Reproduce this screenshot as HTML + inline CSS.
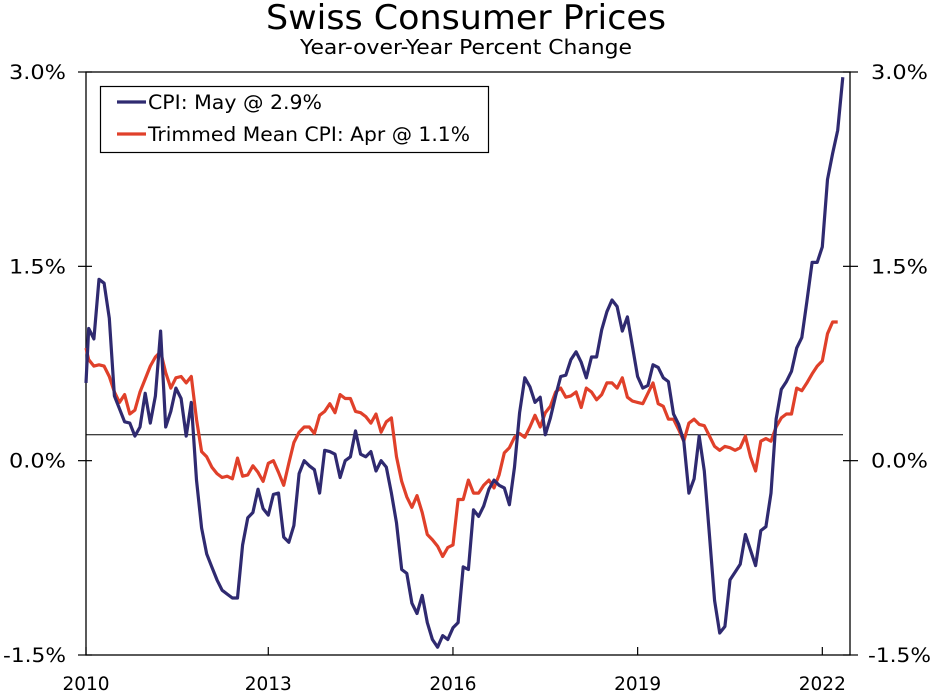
<!DOCTYPE html>
<html><head><meta charset="utf-8"><style>
html,body{margin:0;padding:0;background:#fff;}
svg{display:block;font-family:"DejaVu Sans","Liberation Sans",sans-serif;}
</style></head><body>
<svg id="chart" width="937" height="691" viewBox="0 0 937 691">
<text x="466" y="29" text-anchor="middle" font-size="34" textLength="400" lengthAdjust="spacingAndGlyphs" fill="#000">Swiss Consumer Prices</text>
<text x="466" y="54" text-anchor="middle" font-size="20" textLength="332" lengthAdjust="spacingAndGlyphs" fill="#000">Year-over-Year Percent Change</text>
<g id="axes"></g>
<g id="series"></g>
<g>
<rect x="100.5" y="86.5" width="388" height="66" fill="#fff" stroke="#000" stroke-width="1.2"/>
<line x1="117" y1="102" x2="146" y2="102" stroke="#2f2a70" stroke-width="3.2"/>
<text x="148" y="109" font-size="19.5" textLength="174" lengthAdjust="spacingAndGlyphs">CPI: May @ 2.9%</text>
<line x1="117" y1="134" x2="146" y2="134" stroke="#e0402a" stroke-width="3.2"/>
<text x="148" y="141" font-size="19.5" textLength="322" lengthAdjust="spacingAndGlyphs">Trimmed Mean CPI: Apr @ 1.1%</text>
</g>
</svg>
<script>
const cpiValues=[0.6,1.02,0.94,1.40,1.37,1.1,0.5,0.4,0.3,0.29,0.19,0.26,0.52,0.29,0.5,1.0,0.26,0.38,0.56,0.48,0.19,0.45,-0.15,-0.52,-0.72,-0.82,-0.92,-1.0,-1.03,-1.06,-1.06,-0.65,-0.44,-0.4,-0.22,-0.37,-0.42,-0.26,-0.25,-0.59,-0.63,-0.5,-0.1,0.0,-0.04,-0.07,-0.25,0.08,0.07,0.05,-0.13,0.0,0.03,0.23,0.05,0.03,0.07,-0.08,0.0,-0.05,-0.25,-0.48,-0.84,-0.87,-1.1,-1.18,-1.04,-1.25,-1.38,-1.44,-1.35,-1.38,-1.29,-1.25,-0.82,-0.84,-0.38,-0.43,-0.35,-0.22,-0.15,-0.19,-0.21,-0.34,-0.05,0.37,0.64,0.57,0.45,0.49,0.2,0.33,0.5,0.65,0.66,0.78,0.84,0.76,0.64,0.8,0.8,1.01,1.15,1.24,1.19,1.0,1.11,0.88,0.65,0.56,0.58,0.74,0.72,0.64,0.61,0.36,0.28,0.15,-0.25,-0.14,0.19,-0.08,-0.58,-1.08,-1.33,-1.28,-0.92,-0.86,-0.8,-0.57,-0.69,-0.81,-0.54,-0.51,-0.25,0.32,0.55,0.61,0.69,0.87,0.95,1.23,1.53,1.53,1.65,2.17,2.37,2.55,2.96];
const trimmedValues=[0.87,0.78,0.73,0.74,0.73,0.65,0.53,0.45,0.51,0.36,0.39,0.53,0.63,0.73,0.8,0.84,0.68,0.56,0.64,0.65,0.6,0.65,0.32,0.07,0.03,-0.05,-0.1,-0.13,-0.12,-0.14,0.02,-0.12,-0.11,-0.04,-0.09,-0.16,-0.02,0,-0.09,-0.19,-0.02,0.14,0.22,0.26,0.26,0.21,0.35,0.38,0.44,0.37,0.51,0.48,0.48,0.38,0.37,0.34,0.29,0.36,0.22,0.3,0.33,0.03,-0.16,-0.28,-0.36,-0.27,-0.4,-0.57,-0.61,-0.66,-0.74,-0.67,-0.65,-0.3,-0.3,-0.15,-0.25,-0.25,-0.19,-0.15,-0.21,-0.11,0.06,0.1,0.18,0.21,0.18,0.26,0.35,0.26,0.37,0.42,0.53,0.56,0.49,0.5,0.53,0.41,0.56,0.53,0.47,0.51,0.6,0.6,0.56,0.64,0.49,0.46,0.45,0.44,0.52,0.6,0.44,0.42,0.32,0.32,0.24,0.15,0.29,0.32,0.28,0.27,0.19,0.11,0.08,0.11,0.1,0.08,0.1,0.19,0.03,-0.08,0.15,0.17,0.15,0.26,0.33,0.36,0.36,0.56,0.54,0.6,0.67,0.73,0.77,0.98,1.07,1.07];
const yTicks=[3.0,1.5,0.0,-1.5];
const yTickLabels=["3.0%","1.5%","0.0%","-1.5%"];
const xTickYears=[2010,2013,2016,2019,2022];
const referenceLevel=[0.2];

const NS="http://www.w3.org/2000/svg";
const L=86,R=850,T=72,B=655;
function xScale(i){return 83.6+i*5.13;}
function yScale(v){return T+(3.0-v)*(B-T)/4.5;}
function xYear(y){return xScale((y-2010)*12);}
function mk(tag,attrs,parent){const e=document.createElementNS(NS,tag);for(const k in attrs)e.setAttribute(k,attrs[k]);parent.appendChild(e);return e;}
const axes=document.getElementById('axes'),series=document.getElementById('series');

let e=mk('rect',{x:L,y:T,width:R-L,height:B-T,fill:'none',stroke:'#000','stroke-width':1.3},axes);


yTicks.forEach((v,k)=>{
  const y=yScale(v);
  const lab=yTickLabels[k];
  const w=lab.length===5?63:57;
  let t=mk('line',{x1:L-8,y1:y,x2:L+6,y2:y,stroke:'#000','stroke-width':1.2},axes);
  
  
  t=mk('line',{x1:R-7,y1:y,x2:R+8,y2:y,stroke:'#000','stroke-width':1.2},axes);
  
  
  let tx=mk('text',{x:66-w,y:y+7,'font-size':19.5,textLength:w,lengthAdjust:'spacingAndGlyphs'},axes);tx.textContent=lab;
  
  
  tx=mk('text',{x:lab.length===5?868:871,y:y+7,'font-size':19.5,textLength:w,lengthAdjust:'spacingAndGlyphs'},axes);tx.textContent=lab;
  
  
});
xTickYears.forEach(yr=>{
  const x=Math.max(L,xYear(yr));
  let t=mk('line',{x1:x,y1:B-8,x2:x,y2:B,stroke:'#000','stroke-width':1.2},axes);
  
  
  let tx=mk('text',{x:x,y:690,'text-anchor':'middle','font-size':18.5},axes);tx.textContent=String(yr);
  
  
});
const ry=yScale(referenceLevel[0]);
e=mk('line',{x1:L,y1:ry,x2:843,y2:ry,stroke:'#000','stroke-width':1},axes);



function path(vals,color,name){
  const d=vals.map((v,i)=>(i?'L':'M')+Math.max(L,xScale(i)).toFixed(1)+','+yScale(v).toFixed(1)).join('');
  const p=mk('path',{d:d,fill:'none',stroke:color,'stroke-width':3.2,'stroke-linejoin':'round'},series);
  
  
}
path(trimmedValues,'#e0402a','trimmed-mean-cpi-line');
path(cpiValues,'#2f2a70','cpi-line');
</script>
</body></html>
